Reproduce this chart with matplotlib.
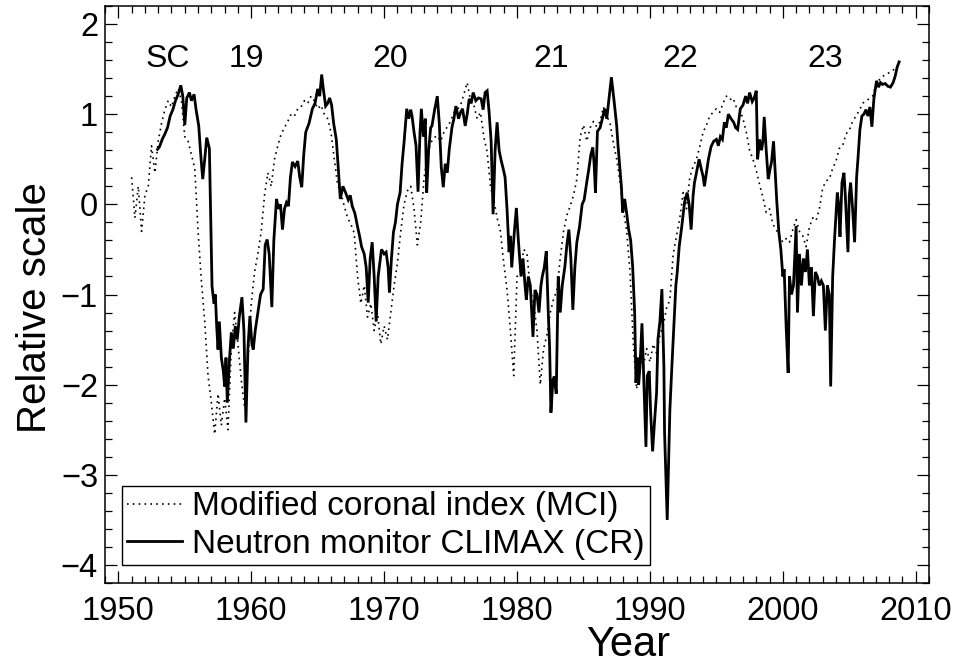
import numpy as np
import matplotlib
matplotlib.use("Agg")
import matplotlib.pyplot as plt
from matplotlib.ticker import MultipleLocator

plt.rcParams['font.family'] = ['Liberation Sans', 'DejaVu Sans']

# Neutron monitor CLIMAX (CR), relative scale
cr_years = [
    1952.95, 1953.1, 1953.3, 1953.5, 1953.7, 1953.9, 1954.1, 1954.3, 1954.5, 1954.7,
    1954.85, 1955.0, 1955.15, 1955.35, 1955.5, 1955.7, 1955.85, 1956.05, 1956.2, 1956.35,
    1956.5, 1956.65, 1956.85, 1957.05, 1957.2, 1957.3, 1957.4, 1957.5, 1957.6, 1957.75,
    1957.9, 1958.0, 1958.1, 1958.2, 1958.35, 1958.5, 1958.65, 1958.8, 1958.95, 1959.1,
    1959.3, 1959.45, 1959.6, 1959.75, 1959.9, 1960.05, 1960.15, 1960.3, 1960.5, 1960.7,
    1960.9, 1961.05, 1961.2, 1961.35, 1961.55, 1961.7, 1961.9, 1962.05, 1962.2, 1962.35,
    1962.5, 1962.65, 1962.8, 1962.95, 1963.1, 1963.3, 1963.5, 1963.65, 1963.8, 1963.95,
    1964.1, 1964.35, 1964.6, 1964.8, 1965.0, 1965.15, 1965.3, 1965.45, 1965.6, 1965.75,
    1965.9, 1966.05, 1966.2, 1966.4, 1966.55, 1966.7, 1966.9, 1967.1, 1967.3, 1967.45,
    1967.6, 1967.8, 1968.0, 1968.15, 1968.3, 1968.5, 1968.65, 1968.8, 1968.95, 1969.1,
    1969.25, 1969.4, 1969.55, 1969.8, 1970.0, 1970.15, 1970.3, 1970.4, 1970.55, 1970.7,
    1970.85, 1971.0, 1971.2, 1971.35, 1971.5, 1971.7, 1971.85, 1972.0, 1972.1, 1972.25,
    1972.4, 1972.55, 1972.7, 1972.8, 1972.95, 1973.1, 1973.2, 1973.35, 1973.5, 1973.6,
    1973.8, 1974.0, 1974.15, 1974.3, 1974.45, 1974.6, 1974.75, 1974.9, 1975.1, 1975.25,
    1975.4, 1975.6, 1975.75, 1975.9, 1976.1, 1976.25, 1976.4, 1976.55, 1976.7, 1976.9,
    1977.1, 1977.3, 1977.45, 1977.6, 1977.75, 1977.9, 1978.05, 1978.2, 1978.35, 1978.5,
    1978.65, 1978.8, 1978.95, 1979.1, 1979.25, 1979.4, 1979.5, 1979.6, 1979.8, 1979.95,
    1980.1, 1980.3, 1980.45, 1980.6, 1980.7, 1980.85, 1981.0, 1981.2, 1981.35, 1981.5,
    1981.65, 1981.8, 1981.9, 1982.05, 1982.2, 1982.35, 1982.45, 1982.55, 1982.7, 1982.8,
    1982.95, 1983.1, 1983.25, 1983.4, 1983.6, 1983.75, 1983.9, 1984.05, 1984.2, 1984.35,
    1984.5, 1984.7, 1984.9, 1985.05, 1985.25, 1985.4, 1985.55, 1985.7, 1985.8, 1985.9,
    1986.05, 1986.25, 1986.4, 1986.5, 1986.6, 1986.75, 1986.9, 1987.1, 1987.3, 1987.5,
    1987.6, 1987.7, 1987.85, 1987.95, 1988.1, 1988.25, 1988.4, 1988.55, 1988.7, 1988.85,
    1988.95, 1989.05, 1989.15, 1989.25, 1989.4, 1989.55, 1989.7, 1989.8, 1989.95, 1990.05,
    1990.2, 1990.35, 1990.5, 1990.6, 1990.75, 1990.9, 1991.05, 1991.1, 1991.3, 1991.5,
    1991.65, 1991.8, 1991.95, 1992.05, 1992.2, 1992.4, 1992.6, 1992.8, 1992.95, 1993.1,
    1993.25, 1993.35, 1993.5, 1993.7, 1993.85, 1994.0, 1994.1, 1994.25, 1994.4, 1994.6,
    1994.8, 1995.0, 1995.15, 1995.3, 1995.45, 1995.6, 1995.75, 1995.9, 1996.1, 1996.3,
    1996.45, 1996.6, 1996.8, 1997.0, 1997.2, 1997.35, 1997.5, 1997.7, 1997.85, 1998.0,
    1998.1, 1998.25, 1998.4, 1998.5, 1998.6, 1998.75, 1998.9, 1999.05, 1999.15, 1999.3,
    1999.45, 1999.55, 1999.7, 1999.85, 2000.0, 2000.1, 2000.25, 2000.4, 2000.5, 2000.65,
    2000.8, 2001.0, 2001.1, 2001.25, 2001.4, 2001.55, 2001.7, 2001.85, 2002.0, 2002.15,
    2002.3, 2002.45, 2002.6, 2002.75, 2002.9, 2003.05, 2003.2, 2003.35, 2003.5, 2003.6,
    2003.75, 2003.9, 2004.1, 2004.2, 2004.3, 2004.45, 2004.6, 2004.7, 2004.9, 2005.0,
    2005.1, 2005.25, 2005.4, 2005.55, 2005.65, 2005.8, 2005.95, 2006.1, 2006.25, 2006.4,
    2006.55, 2006.7, 2006.85, 2007.05, 2007.2, 2007.35, 2007.5, 2007.7, 2007.9, 2008.1,
    2008.3, 2008.45, 2008.6, 2008.75,
]
cr_values = [
    0.61, 0.64, 0.72, 0.78, 0.85, 0.98, 1.05, 1.15, 1.22, 1.32,
    1.20, 0.88, 1.18, 1.24, 1.15, 1.22, 1.05, 0.87, 0.55, 0.28,
    0.50, 0.74, 0.62, -0.91, -1.10, -1.00, -1.35, -1.61, -1.30, -1.70,
    -1.85, -2.02, -1.70, -2.20, -1.75, -1.42, -1.60, -1.35, -1.50, -1.25,
    -1.03, -1.40, -2.42, -1.60, -1.24, -1.55, -1.61, -1.40, -1.20, -1.00,
    -0.94, -0.45, -0.39, -0.55, -1.14, -0.40, 0.06, -0.05, 0.00, -0.28,
    -0.05, 0.02, -0.02, 0.30, 0.47, 0.42, 0.48, 0.30, 0.19, 0.55,
    0.80, 0.90, 1.06, 1.12, 1.28, 1.20, 1.44, 1.25, 1.09, 1.12,
    1.18, 1.10, 0.90, 0.72, 0.40, 0.06, 0.20, 0.13, 0.05, 0.10,
    -0.02, -0.10, -0.25, -0.35, -0.47, -0.55, -0.70, -1.09, -0.60, -0.42,
    -0.80, -1.30, -0.80, -0.50, -0.55, -0.53, -0.70, -0.98, -0.60, -0.31,
    -0.20, 0.00, 0.13, 0.45, 0.69, 1.06, 0.95, 1.05, 0.98, 0.80,
    0.65, 0.14, 0.80, 1.06, 0.75, 0.95, 0.13, 0.60, 0.85, 0.87,
    1.05, 1.20, 0.90, 0.41, 0.19, 0.45, 0.35, 0.61, 0.85, 0.95,
    1.09, 0.95, 1.02, 1.06, 0.87, 1.00, 1.17, 1.12, 1.24, 1.15,
    1.18, 1.17, 1.05, 1.24, 1.26, 1.02, 0.70, -0.11, 0.60, 0.91,
    0.60, 0.49, 0.40, 0.30, -0.06, -0.53, -0.35, -0.70, -0.30, -0.04,
    -0.40, -0.80, -0.60, -0.90, -1.06, -0.80, -0.90, -1.47, -0.95, -1.00,
    -1.20, -0.90, -0.80, -0.70, -0.52, -1.20, -1.58, -2.31, -1.95, -1.91,
    -2.10, -0.80, -1.20, -0.90, -0.69, -0.45, -0.28, -0.60, -1.17, -0.70,
    -0.42, -0.25, 0.00, 0.05, 0.25, 0.39, 0.55, 0.63, 0.45, 0.13,
    0.81, 0.85, 0.94, 1.00, 1.06, 0.95, 1.15, 1.41, 1.15, 0.87,
    0.65, 0.47, 0.20, -0.09, 0.06, -0.10, -0.28, -0.40, -0.69, -1.20,
    -1.98, -1.70, -2.00, -1.80, -1.32, -2.00, -2.69, -1.90, -1.85, -2.30,
    -2.74, -2.40, -2.09, -1.50, -1.30, -0.94, -1.80, -2.53, -3.50, -2.28,
    -1.80, -1.36, -0.90, -0.76, -0.47, -0.24, 0.02, 0.13, 0.00, -0.28,
    0.10, 0.24, 0.35, 0.50, 0.40, 0.31, 0.20, 0.35, 0.50, 0.64,
    0.70, 0.72, 0.65, 0.75, 0.72, 0.91, 0.85, 1.00, 0.95, 0.91,
    0.85, 0.83, 1.06, 1.10, 1.20, 1.12, 1.24, 1.14, 1.18, 1.26,
    0.50, 0.72, 0.60, 0.70, 0.97, 0.60, 0.28, 0.40, 0.47, 0.70,
    0.30, 0.02, -0.31, -0.50, -0.80, -0.72, -1.36, -1.87, -0.80, -1.00,
    -0.90, -0.24, -1.20, -0.55, -0.90, -0.60, -0.75, -0.50, -0.90, -0.70,
    -1.24, -0.75, -0.80, -0.90, -0.85, -0.90, -1.40, -0.90, -1.00, -2.02,
    -0.80, -0.36, 0.13, 0.00, -0.36, 0.24, 0.35, 0.10, -0.53, 0.10,
    0.24, -0.05, -0.42, 0.30, 0.50, 0.83, 0.98, 1.00, 1.05, 0.98,
    1.08, 0.86, 1.17, 1.37, 1.30, 1.35, 1.33, 1.34, 1.31, 1.30,
    1.35, 1.42, 1.52, 1.58,
]

# Modified coronal index (MCI), quarterly readings from 1951.0
mci_start = 1951.0
mci_step = 0.25
mci_values = [
    0.30, -0.15, 0.20, -0.30,
    0.10, 0.20, 0.65, 0.35,
    0.70, 0.90, 1.05, 1.15,
    1.08, 1.20, 1.28, 1.15,
    0.75, 0.70, 0.55, 0.40,
    -0.30, -0.85, -1.30, -1.90,
    -2.20, -2.55, -2.10, -2.45,
    -2.15, -2.50, -1.60, -1.20,
    -1.55, -1.95, -2.25, -1.75,
    -1.10, -0.75, -0.55, -0.30,
    0.10, 0.35, 0.20, 0.50,
    0.65, 0.78, 0.85, 0.92,
    1.00, 0.98, 1.06, 1.08,
    1.15, 1.12, 1.20, 1.15,
    1.06, 1.10, 1.00, 0.95,
    0.80, 0.50, 0.22, 0.12,
    -0.02, -0.15, -0.22, -0.32,
    -0.80, -1.10, -0.90, -1.25,
    -1.10, -1.40, -1.20, -1.55,
    -1.35, -1.50, -1.20, -0.90,
    -0.65, -0.30, 0.00, 0.15,
    0.20, -0.05, -0.45, -0.20,
    0.28, 0.55, 0.68, 0.74,
    0.76, 0.70, 0.80, 0.86,
    0.92, 1.02, 1.05, 1.10,
    1.22, 1.35, 1.15, 1.10,
    0.95, 1.02, 0.75, 0.58,
    0.20, 0.05, -0.15, -0.30,
    -0.65, -0.95, -1.40, -1.90,
    -0.80, -0.75, -0.50, -0.55,
    -0.95, -1.10, -1.40, -2.00,
    -1.60, -1.45, -1.20, -1.05,
    -0.95, -0.60, -0.30, -0.12,
    -0.02, 0.10, 0.28, 0.75,
    0.88, 0.70, 0.85, 0.92,
    0.86, 0.92, 1.08, 0.98,
    0.90, 0.68, 0.50, 0.25,
    -0.05, -0.30, -0.75, -1.55,
    -2.05, -1.70, -1.80, -1.60,
    -1.75, -1.55, -1.65, -1.45,
    -1.35, -1.15, -1.06, -0.55,
    -0.35, -0.15, 0.13, -0.05,
    0.30, 0.42, 0.50, 0.64,
    0.80, 0.88, 0.98, 1.02,
    1.06, 1.02, 1.12, 1.20,
    1.16, 1.18, 1.08, 1.06,
    0.95, 0.80, 0.60, 0.50,
    0.38, 0.22, 0.08, -0.09,
    -0.05, -0.22, -0.28, -0.35,
    -0.42, -0.38, -0.42, -0.28,
    -0.17, -0.30, -0.35, -0.47,
    -0.25, -0.15, -0.18, -0.05,
    0.18, 0.26, 0.28, 0.40,
    0.48, 0.62, 0.65, 0.78,
    0.82, 0.92, 0.98, 1.04,
    1.12, 1.15, 1.17, 1.20,
    1.32, 1.38, 1.42, 1.44,
    1.46, 1.48, 1.52, 1.55,
]
mci_years = mci_start + mci_step * np.arange(len(mci_values))

cycle_labels = ["SC", "19", "20", "21", "22", "23"]
cycle_years = [1953.7, 1959.6, 1970.45, 1982.6, 1992.3, 2003.2]
cycle_level = 1.61

fig = plt.figure(figsize=(9.55, 6.66), dpi=100)
ax = fig.add_axes([0.110, 0.1246, 0.8628, 0.8664])

ax.plot(mci_years, mci_values, color='black', lw=1.2, linestyle=(0, (1, 2.5)),
        label='Modified coronal index (MCI)')
ax.plot(cr_years, cr_values, color='black', lw=2.0, solid_joinstyle='miter',
        label='Neutron monitor CLIMAX (CR)')

for lab, yr in zip(cycle_labels, cycle_years):
    ax.text(yr, cycle_level, lab, fontsize=23, ha='center', va='center')

ax.set_xlim(1949, 2011)
ax.set_ylim(-4.2, 2.2)
ax.xaxis.set_major_locator(MultipleLocator(10))
ax.xaxis.set_minor_locator(MultipleLocator(1))
ax.yaxis.set_major_locator(MultipleLocator(1))
ax.yaxis.set_minor_locator(MultipleLocator(0.2))
ax.tick_params(which='both', direction='in', top=True, right=True, width=0.9, labelsize=23.5)
ax.tick_params(which='major', length=8.5)
ax.tick_params(which='minor', length=5)
ax.tick_params(axis='x', which='major', pad=9)
ax.tick_params(axis='y', which='major', pad=5)
for s in ax.spines.values():
    s.set_linewidth(1.1)

ax.set_xlabel('Year', fontsize=30)
ax.set_ylabel('Relative scale', fontsize=29)
ax.xaxis.set_label_coords(0.635, -0.072)
ax.yaxis.set_label_coords(-0.062, 0.477)

leg = ax.legend(loc='lower left', bbox_to_anchor=(0.0206, 0.031), borderaxespad=0,
                fontsize=24, frameon=True, fancybox=False, framealpha=1,
                edgecolor='black', handlelength=1.65, handletextpad=0.3,
                labelspacing=0.2, borderpad=0.15)
leg.get_frame().set_linewidth(1.0)

fig.savefig('out.png', dpi=100)
